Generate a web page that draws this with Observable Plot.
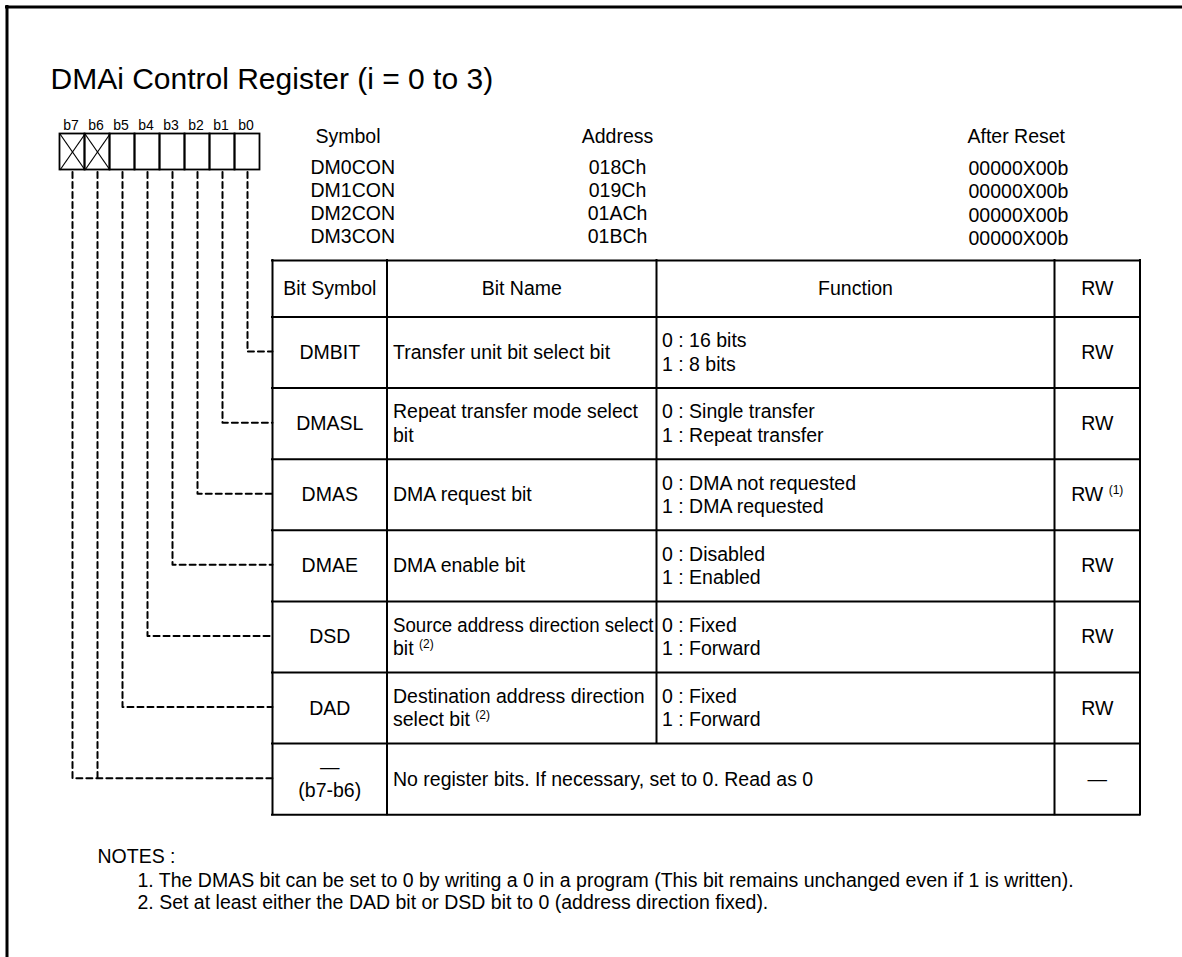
<!DOCTYPE html>
<html><head><meta charset="utf-8">
<script src="https://cdn.jsdelivr.net/npm/d3@7"></script>
<script src="https://cdn.jsdelivr.net/npm/@observablehq/plot@0.6"></script>
<style>html,body{margin:0;padding:0;background:#fff;overflow:hidden}</style>
</head><body><div id="chart"></div>
<script>
// ---------- data ----------
const titleText = "DMAi Control Register (i = 0 to 3)";
const bitLabels = ["b7","b6","b5","b4","b3","b2","b1","b0"];
const reservedBits = ["b7","b6"];
const infoHeaders = ["Symbol","Address","After Reset"];
const registerSymbols = ["DM0CON","DM1CON","DM2CON","DM3CON"];
const registerAddresses = ["018Ch","019Ch","01ACh","01BCh"];
const resetValues = ["00000X00b","00000X00b","00000X00b","00000X00b"];
const tableHeaders = ["Bit Symbol","Bit Name","Function","RW"];
const bitSymbols = ["DMBIT","DMASL","DMAS","DMAE","DSD","DAD","—\n(b7-b6)"];
const bitNames = [
  "Transfer unit bit select bit",
  "Repeat transfer mode select\nbit",
  "DMA request bit",
  "DMA enable bit",
  "Source address direction select\nbit",
  "Destination address direction\nselect bit",
  "No register bits. If necessary, set to 0. Read as 0"
];
const bitNameNotes = ["","","","","(2)","(2)",""];
const bitFunctions = [
  "0 : 16 bits\n1 : 8 bits",
  "0 : Single transfer\n1 : Repeat transfer",
  "0 : DMA not requested\n1 : DMA requested",
  "0 : Disabled\n1 : Enabled",
  "0 : Fixed\n1 : Forward",
  "0 : Fixed\n1 : Forward",
  ""
];
const rwValues = ["RW","RW","RW","RW","RW","RW","—"];
const rwNotes = ["","","(1)","","","",""];
const rowBits = [["b0"],["b1"],["b2"],["b3"],["b4"],["b5"],["b7","b6"]];
const notesTitle = "NOTES :";
const notes = [
  "1. The DMAS bit can be set to 0 by writing a 0 in a program (This bit remains unchanged even if 1 is written).",
  "2. Set at least either the DAD bit or DSD bit to 0 (address direction fixed)."
];

// ---------- layout ----------
const W = 1182, H = 957;
const FONT = "'Liberation Sans', Arial, Helvetica, sans-serif";
const FS = 19.5, SUP = 12, LINE = 23.5, BASE = 6.5;
const ctx = document.createElement("canvas").getContext("2d");
const tw = (s, size) => { ctx.font = `${size}px ${FONT}`; return ctx.measureText(s).width; };

const cols = [272, 386.5, 656, 1054, 1139.5];
const tableTop = 260, headerBottom = 316.5, rowH = 71.1;
const nRows = bitSymbols.length;
const rowTop = i => headerBottom + i * rowH;
const rowMid = i => rowTop(i) + rowH / 2;
const tableBottom = rowTop(nRows);
const colMid = c => (cols[c] + cols[c + 1]) / 2;
const pad = 6;
const maxNameWidth = cols[2] - cols[1] - pad - 3;

const boxLeft = 59.5, boxTop = 133.5, cellW = 25, cellH = 36;
const boxBottom = boxTop + cellH;
const bitX = b => boxLeft + (bitLabels.indexOf(b) + 0.5) * cellW;

const startTexts = [], midTexts = [], supTexts = [];
function addCell(list, str, x, mid) {
  const lines = str.split("\n");
  lines.forEach((t, i) => list.push({x, y: mid + BASE + (i - (lines.length - 1) / 2) * LINE, text: t}));
  return mid + BASE + ((lines.length - 1) / 2) * LINE; // last baseline
}

// header info block
const infoBase = 142, infoGap = 23.3, firstInfo = 173;
startTexts.push({x: 315, y: infoBase, text: infoHeaders[0]});
midTexts.push({x: 617, y: infoBase, text: infoHeaders[1]});
startTexts.push({x: 967, y: infoBase, text: infoHeaders[2]});
registerSymbols.forEach((s, i) => startTexts.push({x: 310, y: firstInfo + i * infoGap, text: s}));
registerAddresses.forEach((s, i) => midTexts.push({x: 617, y: firstInfo + i * infoGap, text: s}));
resetValues.forEach((s, i) => startTexts.push({x: 968, y: firstInfo + 1.5 + i * infoGap, text: s}));

// table header
const hMid = (tableTop + headerBottom) / 2;
tableHeaders.forEach((h, c) => midTexts.push({x: colMid(c), y: hMid + BASE, text: h}));

// table rows
bitSymbols.forEach((s, r) => {
  const m = rowMid(r);
  addCell(midTexts, s, colMid(0), m);
  const lastBase = addCell(startTexts, bitNames[r], cols[1] + pad, m);
  if (bitNameNotes[r]) {
    const lines = bitNames[r].split("\n");
    supTexts.push({x: cols[1] + pad + tw(lines[lines.length - 1] + " ", FS), y: lastBase - 7.5, text: bitNameNotes[r]});
  }
  if (bitFunctions[r]) addCell(startTexts, bitFunctions[r], cols[2] + 5.5, m);
  if (rwNotes[r]) {
    const total = tw(rwValues[r] + " ", FS) + tw(rwNotes[r], SUP);
    const x0 = colMid(3) - total / 2;
    startTexts.push({x: x0, y: m + BASE, text: rwValues[r]});
    supTexts.push({x: x0 + tw(rwValues[r] + " ", FS), y: m + BASE - 7.5, text: rwNotes[r]});
  } else {
    midTexts.push({x: colMid(3), y: m + BASE, text: rwValues[r]});
  }
});

// notes
startTexts.push({x: 97, y: 862, text: notesTitle});
notes.forEach((n, i) => startTexts.push({x: 137, y: 886 + i * 22.5, text: n}));

// table lines
const hLines = [tableTop, headerBottom, ...d3.range(1, nRows + 1).map(rowTop)];
const vLines = [
  {x: cols[0], y1: tableTop, y2: tableBottom},
  {x: cols[1], y1: tableTop, y2: tableBottom},
  {x: cols[2], y1: tableTop, y2: rowTop(nRows - 1)},
  {x: cols[3], y1: tableTop, y2: tableBottom},
  {x: cols[4], y1: tableTop, y2: tableBottom}
];

// register cells
const cells = bitLabels.map((b, i) => ({b, x1: boxLeft + i * cellW, x2: boxLeft + (i + 1) * cellW, y1: boxTop, y2: boxBottom}));
const crosses = cells.filter(c => reservedBits.includes(c.b)).flatMap(c => [
  {x1: c.x1, y1: c.y1, x2: c.x2, y2: c.y2},
  {x1: c.x1, y1: c.y2, x2: c.x2, y2: c.y1}
]);

// dashed connectors
const connectors = [];
rowBits.forEach((bits, r) => bits.forEach((b, k) => {
  const cx = bitX(b), y = rowMid(r) - 1;
  connectors.push({id: b, x: cx, y: boxBottom + 2}, {id: b, x: cx, y});
  if (k === 0) connectors.push({id: b, x: cols[0], y});
}));

const chart = Plot.plot({
  width: W, height: H, margin: 0,
  x: {domain: [0, W], range: [0, W], axis: null},
  y: {domain: [0, H], range: [0, H], axis: null},
  style: {fontFamily: FONT, background: "#fff", color: "#000"},
  marks: [
    // frame (top & left)
    Plot.ruleY([6.5], {x1: 5, x2: W, stroke: "#000", strokeWidth: 3}),
    Plot.ruleX([6.5], {y1: 5, y2: H, stroke: "#000", strokeWidth: 3}),
    // title
    Plot.text([titleText], {x: 50, y: 88, text: d => d, textAnchor: "start", lineAnchor: "bottom", fontSize: 30, fill: "#000"}),
    // register bits
    Plot.rect(cells, {x1: "x1", x2: "x2", y1: "y1", y2: "y2", fill: "none", stroke: "#000", strokeWidth: 1.8}),
    Plot.link(crosses, {x1: "x1", y1: "y1", x2: "x2", y2: "y2", stroke: "#000", strokeWidth: 1.2}),
    Plot.text(bitLabels, {x: b => bitX(b) - 1.5, y: boxTop - 4, text: d => d, textAnchor: "middle", lineAnchor: "bottom", fontSize: 14, fill: "#000"}),
    // connectors
    Plot.line(connectors, {x: "x", y: "y", z: "id", stroke: "#000", strokeWidth: 2, strokeDasharray: "6,4", curve: "linear"}),
    // table
    Plot.ruleY(hLines, {y: d => d, x1: cols[0], x2: cols[4], stroke: "#000", strokeWidth: 2, strokeLinecap: "square"}),
    Plot.ruleX(vLines, {x: "x", y1: "y1", y2: "y2", stroke: "#000", strokeWidth: 2, strokeLinecap: "square"}),
    // texts
    Plot.text(startTexts, {x: "x", y: "y", text: "text", textAnchor: "start", lineAnchor: "bottom", fontSize: FS, fill: "#000"}),
    Plot.text(midTexts, {x: "x", y: "y", text: "text", textAnchor: "middle", lineAnchor: "bottom", fontSize: FS, fill: "#000"}),
    Plot.text(supTexts, {x: "x", y: "y", text: "text", textAnchor: "start", lineAnchor: "bottom", fontSize: SUP, fill: "#000"})
  ]
});

// condense bit-name lines that would overflow their column (as in the original)
const nameLines = new Set(bitNames.flatMap(n => n.split("\n")));
d3.select(chart).selectAll("text").each(function () {
  const t = this.textContent;
  if (nameLines.has(t) && t.length < 40 && tw(t, FS) > maxNameWidth) {
    this.setAttribute("textLength", maxNameWidth);
    this.setAttribute("lengthAdjust", "spacingAndGlyphs");
  }
});
document.getElementById("chart").appendChild(chart);
</script></body></html>
